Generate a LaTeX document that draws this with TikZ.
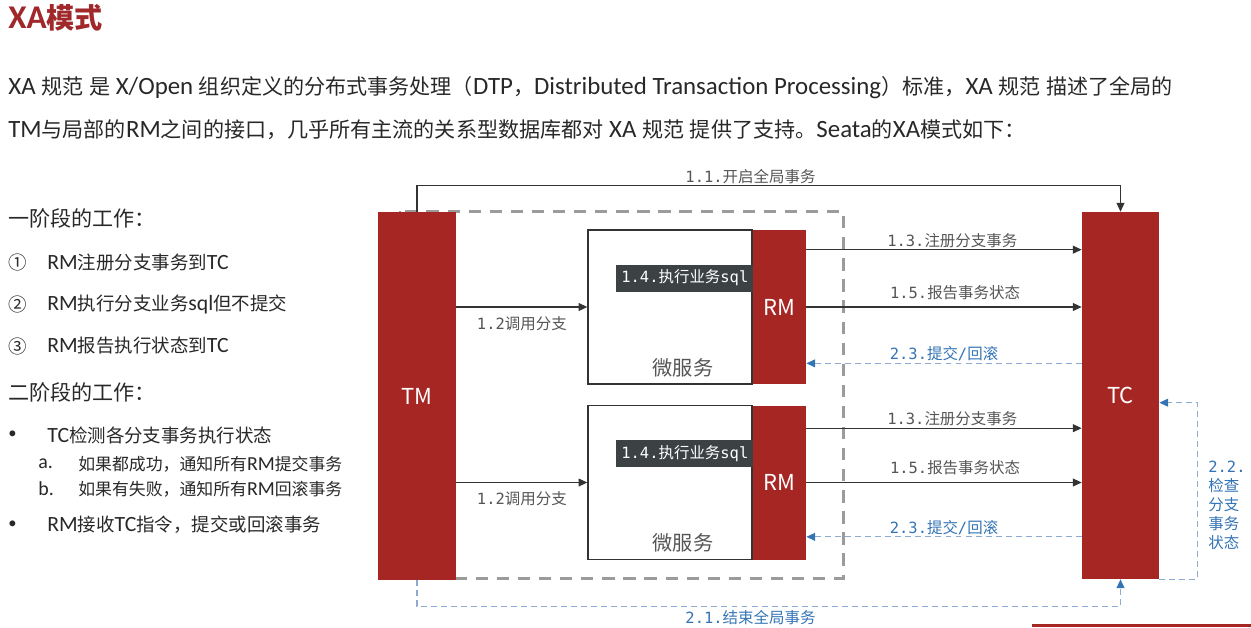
\documentclass[tikz,border=0pt]{standalone}
\usepackage{fontspec}
\setmainfont{Carlito}[Scale=1.18]
\setmonofont{DejaVu Sans Mono}
\newfontfamily\cjk{Noto Sans CJK SC}
\usetikzlibrary{positioning, arrows.meta, calc}

% switch to the CJK family for Chinese characters
\XeTeXinterchartokenstate=1
\newXeTeXintercharclass\zhclass
\newcommand\zhrange[2]{\count255=#1 \loop\XeTeXcharclass\count255=\zhclass
  \ifnum\count255<#2 \advance\count255 by 1 \repeat}
\zhrange{"2460}{"24FF}
\zhrange{"3000}{"303F}
\zhrange{"4E00}{"9FFF}
\zhrange{"FF00}{"FFEF}
\newcommand\latin{\rmfamily}
\XeTeXinterchartoks 0 \zhclass = {\cjk}
\XeTeXinterchartoks 4095 \zhclass = {\cjk}
\XeTeXinterchartoks \zhclass 0 = {\latin}
\XeTeXinterchartoks \zhclass 4095 = {\latin}

\definecolor{xared}{RGB}{166,38,36}
\definecolor{titlered}{RGB}{160,40,42}
\definecolor{txt}{RGB}{40,40,40}
\definecolor{lblgray}{RGB}{85,85,85}
\definecolor{linegray}{RGB}{51,51,51}
\definecolor{framegray}{RGB}{155,155,155}
\definecolor{xablue}{RGB}{52,116,181}
\definecolor{dashblue}{RGB}{140,170,210}
\definecolor{tagbg}{RGB}{60,66,68}

\newcommand\lblfont{\ttfamily\fontsize{8.8}{10.8}\selectfont\def\latin{\ttfamily}}

\begin{document}
\begin{tikzpicture}[
    x=0.02cm, y=-0.02cm,
    body/.style={anchor=west, inner sep=0pt, text=txt, font=\fontsize{12}{14}\selectfont},
    listitem/.style={anchor=west, inner sep=0pt, text=txt, font=\fontsize{10.5}{12}\selectfont},
    subitem/.style={anchor=west, inner sep=0pt, text=txt, font=\fontsize{9.6}{12}\selectfont},
    bullet/.style={anchor=west, inner sep=0pt, text=txt, font=\fontsize{8}{10}\selectfont},
    redbox/.style={rectangle, fill=xared, text=white, inner sep=0pt, font=\cjk\fontsize{12.5}{14}\selectfont},
    svc/.style={rectangle, draw=linegray, line width=0.8pt, fill=white, minimum width=3.28cm,
                minimum height=3.08cm, inner sep=0pt},
    svcname/.style={text=lblgray, inner sep=0pt, font=\fontsize{11.5}{13}\selectfont},
    sqltag/.style={rectangle, fill=tagbg, text=white, inner sep=0pt, font=\lblfont,
                   minimum width=2.74cm, minimum height=0.54cm},
    lbl/.style={font=\lblfont, text=lblgray, inner sep=1pt},
    bluelbl/.style={font=\lblfont, text=xablue, inner sep=1pt},
    callarrow/.style={-{Triangle[length=5pt, width=4.5pt]}, draw=linegray, line width=0.6pt},
    backarrow/.style={-{Triangle[length=5pt, width=4.5pt, color=xablue]}, draw=dashblue,
                      line width=0.6pt, dash pattern=on 3.4pt off 2.3pt},
    groupframe/.style={draw=framegray, line width=1.7pt, dash pattern=on 7pt off 5pt}
]
\useasboundingbox (0,0) rectangle (1251,627);

% Heading and introduction
\node[body, text=titlered, font=\fontsize{16}{18}\selectfont\bfseries] (title) at (8,18) {XA模式};
\node[body] (intro1) at (8,88) {XA 规范 是 X/Open 组织定义的分布式事务处理（DTP，Distributed Transaction Processing）标准，XA 规范 描述了全局的};
\node[body] (intro2) at (8,130) {TM与局部的RM之间的接口，几乎所有主流的关系型数据库都对 XA 规范 提供了支持。Seata的XA模式如下：};

% Phase one
\node[body] (phase1) at (8,218) {一阶段的工作：};
\node[listitem] (num1) at (8,262) {①};
\node[listitem] (step1) at (47,262) {RM注册分支事务到TC};
\node[listitem] (num2) at (8,304) {②};
\node[listitem] (step2) at (47,304) {RM执行分支业务sql但不提交};
\node[listitem] (num3) at (8,346) {③};
\node[listitem] (step3) at (47,346) {RM报告执行状态到TC};

% Phase two
\node[body] (phase2) at (8,392) {二阶段的工作：};
\node[bullet] (dot1) at (8,435) {•};
\node[listitem] (check1) at (47,435) {TC检测各分支事务执行状态};
\node[subitem] (suba) at (38,464) {a.};
\node[subitem] (commit1) at (78,464) {如果都成功，通知所有RM提交事务};
\node[subitem] (subb) at (38,489) {b.};
\node[subitem] (rollback1) at (78,489) {如果有失败，通知所有RM回滚事务};
\node[bullet] (dot2) at (8,525) {•};
\node[listitem] (exec1) at (47,525) {RM接收TC指令，提交或回滚事务};

% Microservice group frame
\draw[groupframe] (400,211) rectangle (843,578);

% Boxes
\node[redbox, minimum width=1.56cm, minimum height=7.36cm] (tm) at (417,396) {TM};
\node[redbox, minimum width=1.54cm, minimum height=7.34cm] (tc) at (1120.5,395.5) {TC};
\node[svc] (svc1) at (670,307) {};
\node[redbox, minimum width=1.06cm, minimum height=3.08cm, right=0pt of svc1] (rm1) {RM};
\node[svc] (svc2) at (670,482.5) {};
\node[redbox, minimum width=1.06cm, minimum height=3.08cm, right=0pt of svc2] (rm2) {RM};
\node[sqltag, anchor=east] (sql1) at ($(rm1.west)+(1,-29)$) {1.4.执行业务sql};
\node[sqltag, anchor=east] (sql2) at ($(rm2.west)+(1,-29)$) {1.4.执行业务sql};
\node[svcname] (name1) at ($(svc1.south)+(13,-17)$) {微服务};
\node[svcname] (name2) at ($(svc2.south)+(13,-17)$) {微服务};

% Phase one connectors
\draw[callarrow] (tm.north) -- ++(0,-26) -| node[pos=0.237, lbl, above] {1.1.开启全局事务} (tc.north);
\draw[callarrow] (tm.east |- svc1.west) -- node[lbl, below=4pt] {1.2调用分支} (svc1.west);
\draw[callarrow] (tm.east |- svc2.west) -- node[lbl, below=4pt] {1.2调用分支} (svc2.west);

\coordinate (reg1) at ($(rm1.north east)+(0,20)$);
\coordinate (reg2) at ($(rm2.north east)+(0,23)$);
\draw[callarrow] (reg1) -- node[lbl, pos=0.53, above] {1.3.注册分支事务} (reg1 -| tc.west);
\draw[callarrow] (rm1.east) -- node[lbl, pos=0.54, above=3pt] {1.5.报告事务状态} (rm1.east -| tc.west);
\draw[callarrow] (reg2) -- node[lbl, pos=0.53, above] {1.3.注册分支事务} (reg2 -| tc.west);
\draw[callarrow] (rm2.east) -- node[lbl, pos=0.54, above=3pt] {1.5.报告事务状态} (rm2.east -| tc.west);

% Phase two connectors
\coordinate (ack1) at ($(rm1.south east)+(0,-21)$);
\coordinate (ack2) at ($(rm2.south east)+(0,-23)$);
\draw[backarrow] (ack1 -| tc.west) -- node[bluelbl, above] {2.3.提交/回滚} (ack1);
\draw[backarrow] (ack2 -| tc.west) -- node[bluelbl, above] {2.3.提交/回滚} (ack2);
\draw[backarrow] (tm.south) -- ++(0,26) -| node[pos=0.237, bluelbl, below=1pt] {2.1.结束全局事务} (tc.south);
\draw[backarrow] (tc.south east) -- ++(38,0) |- ($(tc.north east)+(0,191)$);
\node[bluelbl, anchor=west, align=left, inner sep=0pt] (status) at (1208,505) {2.2.\\检查\\分支\\事务\\状态};

% Slide edge
\fill[xared] (1032,624) rectangle (1251,627);

\end{tikzpicture}
\end{document}
